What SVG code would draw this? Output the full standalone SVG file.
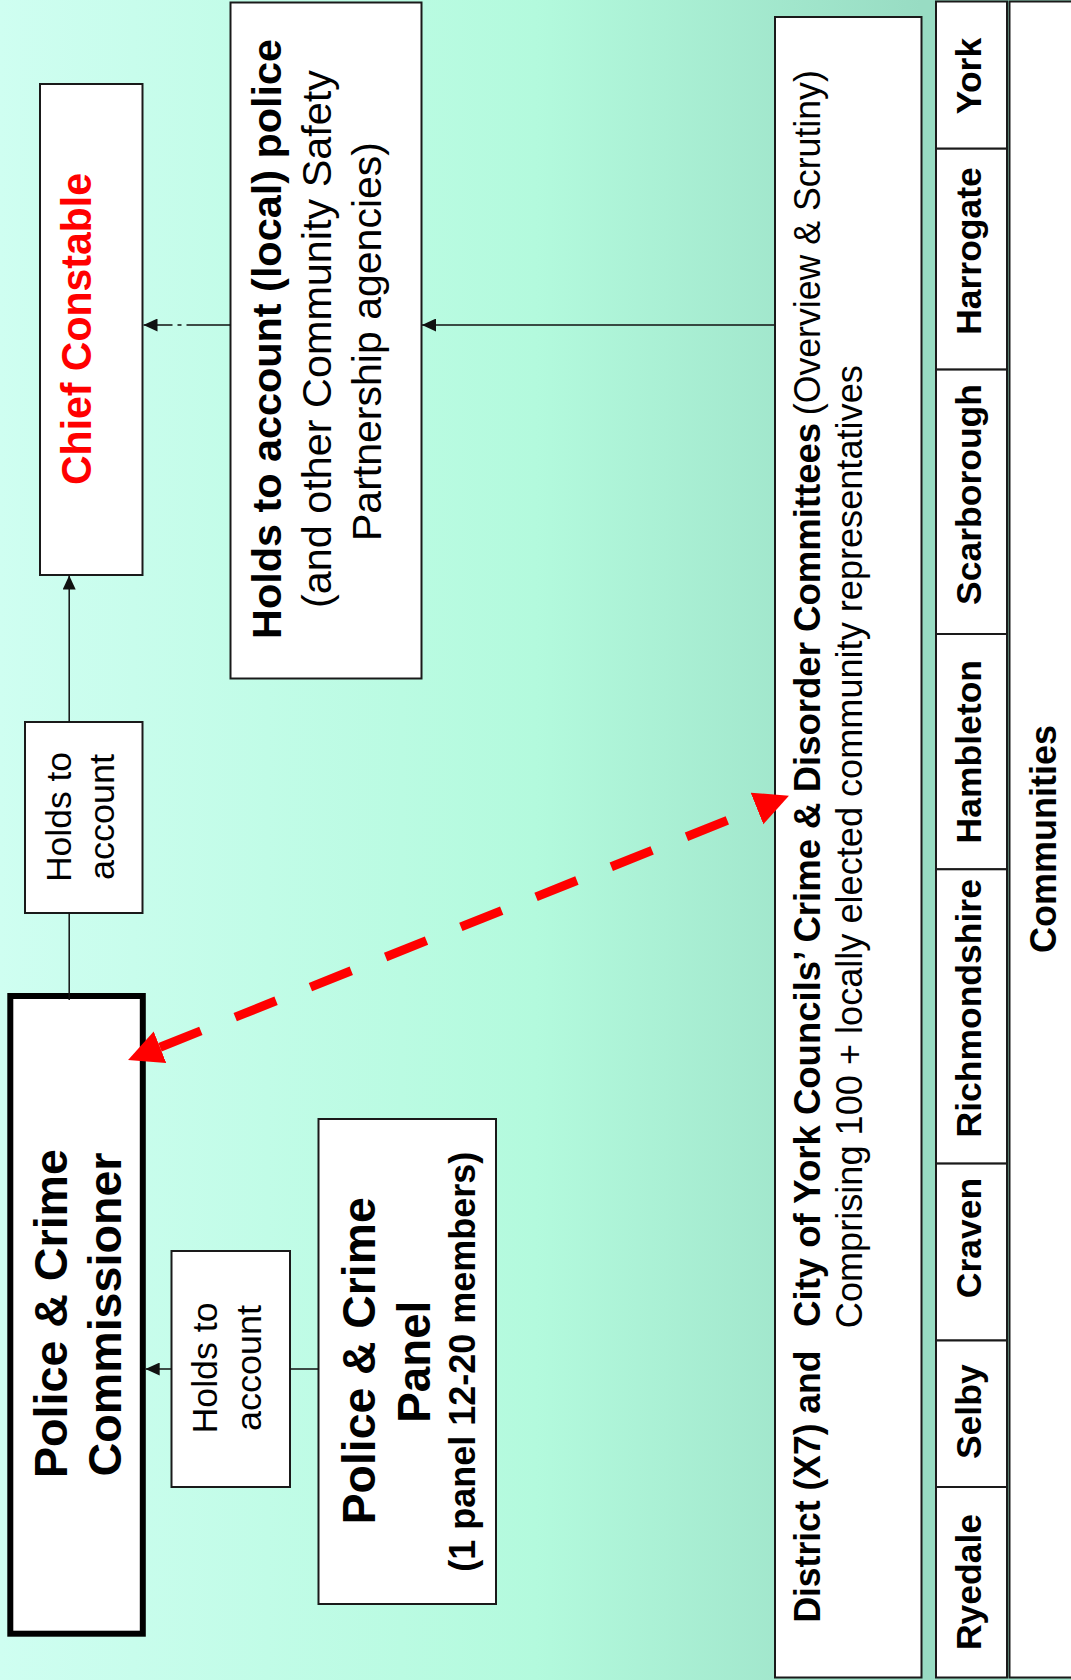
<svg xmlns="http://www.w3.org/2000/svg" width="1071" height="1680" viewBox="0 0 1071 1680">
<defs>
  <linearGradient id="bg" x1="0" y1="0" x2="1071" y2="0" gradientUnits="userSpaceOnUse">
    <stop offset="0" stop-color="#CFFEF1"/>
    <stop offset="0.5" stop-color="#B3FADD"/>
    <stop offset="0.86" stop-color="#98DCC3"/>
    <stop offset="1" stop-color="#98DCC3"/>
  </linearGradient>
  <marker id="arr" markerUnits="userSpaceOnUse" markerWidth="14" markerHeight="13" refX="14" refY="6.5" orient="auto">
    <path d="M0,0 L14,6.5 L0,13 z" fill="#111"/>
  </marker>
  <marker id="red" markerUnits="userSpaceOnUse" markerWidth="35" markerHeight="35" refX="0" refY="17" orient="auto-start-reverse">
    <path d="M0,0 L34.4,17 L0,34 z" fill="#FF0000"/>
  </marker>
</defs>
<style>
  .box{fill:#fff;stroke:#1a1a1a;stroke-width:2}
  .thick{fill:#fff;stroke:#000;stroke-width:6}
  .t{font-family:"Liberation Sans",Arial,Helvetica,sans-serif;fill:#000}
  .b{font-weight:bold}
  .red{fill:#FF0000}
  .ln{stroke:#111;stroke-width:1.5;fill:none}
</style>
<rect x="0" y="0" width="1071" height="1680" fill="url(#bg)"/>

<g id="chief-constable">
  <rect class="box" x="40" y="84" width="102.5" height="491"/>
  <text class="t b red" font-size="42" text-anchor="middle" textLength="312" lengthAdjust="spacingAndGlyphs" transform="translate(91,329) rotate(-90)">Chief Constable</text>
</g>

<g id="local-police">
  <rect class="box" x="230.5" y="2.5" width="191" height="676"/>
  <text class="t b" font-size="41" text-anchor="middle" textLength="600" lengthAdjust="spacingAndGlyphs" transform="translate(280.6,339) rotate(-90)">Holds to account (local) police</text>
  <text class="t" font-size="41" text-anchor="middle" textLength="538" lengthAdjust="spacingAndGlyphs" transform="translate(330.6,339) rotate(-90)">(and other Community Safety</text>
  <text class="t" font-size="41" text-anchor="middle" textLength="399" lengthAdjust="spacingAndGlyphs" transform="translate(380.5,341.5) rotate(-90)">Partnership agencies)</text>
</g>

<g id="holds-upper">
  <rect class="box" x="25" y="722" width="117.5" height="191"/>
  <text class="t" font-size="35" text-anchor="middle" textLength="130" lengthAdjust="spacingAndGlyphs" transform="translate(70.6,817) rotate(-90)">Holds to</text>
  <text class="t" font-size="35" text-anchor="middle" textLength="126" lengthAdjust="spacingAndGlyphs" transform="translate(113.6,817) rotate(-90)">account</text>
</g>

<g id="pcc">
  <rect class="thick" x="10.3" y="996" width="132.5" height="637.7"/>
  <text class="t b" font-size="46" text-anchor="middle" textLength="329" lengthAdjust="spacingAndGlyphs" transform="translate(67.1,1313.5) rotate(-90)">Police &amp; Crime</text>
  <text class="t b" font-size="46" text-anchor="middle" textLength="324" lengthAdjust="spacingAndGlyphs" transform="translate(121,1314.5) rotate(-90)">Commissioner</text>
</g>

<g id="holds-lower">
  <rect class="box" x="171.5" y="1251" width="118.5" height="236"/>
  <text class="t" font-size="35" text-anchor="middle" textLength="131" lengthAdjust="spacingAndGlyphs" transform="translate(217,1368) rotate(-90)">Holds to</text>
  <text class="t" font-size="35" text-anchor="middle" textLength="126" lengthAdjust="spacingAndGlyphs" transform="translate(261,1368) rotate(-90)">account</text>
</g>

<g id="panel">
  <rect class="box" x="318.5" y="1119" width="177.5" height="485"/>
  <text class="t b" font-size="46" text-anchor="middle" textLength="327" lengthAdjust="spacingAndGlyphs" transform="translate(375.3,1360.8) rotate(-90)">Police &amp; Crime</text>
  <text class="t b" font-size="46" text-anchor="middle" textLength="122" lengthAdjust="spacingAndGlyphs" transform="translate(430.4,1361.7) rotate(-90)">Panel</text>
  <text class="t b" font-size="36" text-anchor="middle" textLength="420" lengthAdjust="spacingAndGlyphs" transform="translate(474.5,1361.7) rotate(-90)">(1 panel 12-20 members)</text>
</g>

<g id="committees">
  <rect class="box" x="775" y="17" width="146.5" height="1660.5"/>
  <text class="t b" font-size="36" text-anchor="middle" textLength="272" lengthAdjust="spacingAndGlyphs" transform="translate(820,1486.6) rotate(-90)">District (X7) and</text>
  <text class="t b" font-size="36" text-anchor="middle" textLength="904" lengthAdjust="spacingAndGlyphs" transform="translate(820,874.9) rotate(-90)">City of York Councils’ Crime &amp; Disorder Committees</text>
  <text class="t" font-size="36" text-anchor="middle" textLength="345" lengthAdjust="spacingAndGlyphs" transform="translate(820,242.7) rotate(-90)">(Overview &amp; Scrutiny)</text>
  <text class="t" font-size="36" text-anchor="middle" textLength="963" lengthAdjust="spacingAndGlyphs" transform="translate(862,846.7) rotate(-90)">Comprising 100 + locally elected community representatives</text>
</g>

<g id="districts">
  <g id="york"><rect class="box" x="936" y="1.5" width="71" height="147.2"/><text class="t b" font-size="35.5" text-anchor="middle" transform="translate(981,76) rotate(-90)">York</text></g>
  <g id="harrogate"><rect class="box" x="936" y="148.7" width="71" height="220.9"/><text class="t b" font-size="35.5" text-anchor="middle" transform="translate(981,251) rotate(-90)">Harrogate</text></g>
  <g id="scarborough"><rect class="box" x="936" y="369.6" width="71" height="264.4"/><text class="t b" font-size="35.5" text-anchor="middle" transform="translate(981,494.5) rotate(-90)">Scarborough</text></g>
  <g id="hambleton"><rect class="box" x="936" y="634" width="71" height="235.3"/><text class="t b" font-size="35.5" text-anchor="middle" transform="translate(981,751.7) rotate(-90)">Hambleton</text></g>
  <g id="richmondshire"><rect class="box" x="936" y="869.3" width="71" height="294.3"/><text class="t b" font-size="35.5" text-anchor="middle" transform="translate(981,1008.3) rotate(-90)">Richmondshire</text></g>
  <g id="craven"><rect class="box" x="936" y="1163.6" width="71" height="176.9"/><text class="t b" font-size="35.5" text-anchor="middle" transform="translate(981,1238) rotate(-90)">Craven</text></g>
  <g id="selby"><rect class="box" x="936" y="1340.5" width="71" height="146.5"/><text class="t b" font-size="35.5" text-anchor="middle" transform="translate(981,1411.7) rotate(-90)">Selby</text></g>
  <g id="ryedale"><rect class="box" x="936" y="1487" width="71" height="190.5"/><text class="t b" font-size="35.5" text-anchor="middle" transform="translate(981,1582) rotate(-90)">Ryedale</text></g>
</g>

<g id="communities">
  <rect class="box" x="1009.5" y="1.5" width="70" height="1676"/>
  <text class="t b" font-size="36" text-anchor="middle" transform="translate(1056,839) rotate(-90)">Communities</text>
</g>

<g id="connectors">
  <line class="ln" x1="69.2" y1="722" x2="69.2" y2="575.5" marker-end="url(#arr)"/>
  <line class="ln" x1="69.2" y1="913" x2="69.2" y2="1000"/>
  <line class="ln" x1="230.5" y1="325" x2="143.5" y2="325" stroke-dasharray="44 5 4 5" marker-end="url(#arr)"/>
  <line class="ln" x1="774.3" y1="325" x2="422" y2="325" marker-end="url(#arr)"/>
  <line class="ln" x1="318.5" y1="1369" x2="290" y2="1369"/>
  <line class="ln" x1="171.5" y1="1369" x2="145.7" y2="1369" marker-end="url(#arr)"/>
  <line x1="160" y1="1047.2" x2="757" y2="808.5" stroke="#FF0000" stroke-width="9" stroke-dasharray="44 37" marker-start="url(#red)" marker-end="url(#red)"/>
</g>
</svg>
